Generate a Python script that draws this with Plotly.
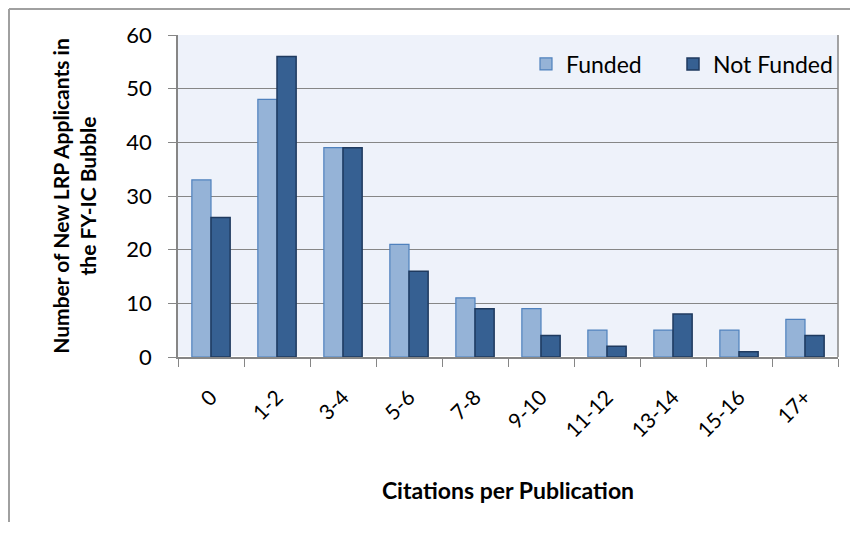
import plotly.graph_objects as go

categories = ["0", "1-2", "3-4", "5-6", "7-8", "9-10", "11-12", "13-14", "15-16", "17+"]
funded = [33, 48, 39, 21, 11, 9, 5, 5, 5, 7]
not_funded = [26, 56, 39, 16, 9, 4, 2, 8, 1, 4]

FONT = "Lato"
# page is offset by the 8px default body margin
W, H = 850, 525
L, R, T, B = 170, 20, 27, 176

fig = go.Figure()
fig.add_trace(go.Bar(x=categories, y=funded, name="Funded", legendwidth=102,
                     marker=dict(color="#95B3D7", line=dict(color="#4F81BD", width=1.2))))
fig.add_trace(go.Bar(x=categories, y=not_funded, name="Not Funded",
                     marker=dict(color="#366092", line=dict(color="#1F3A5F", width=1.5))))

pw, ph = W - L - R, H - T - B
fig.update_layout(
    width=W, height=H,
    margin=dict(l=L, r=R, t=T, b=B, autoexpand=False),
    paper_bgcolor="white",
    plot_bgcolor="#EEF2FA",
    barmode="group",
    bargap=0.42, bargroupgap=0,
    font=dict(family=FONT, size=20, color="black"),
    legend=dict(orientation="h", x=1.0, xanchor="right", y=0.91, yanchor="middle",
                bgcolor="rgba(0,0,0,0)", font=dict(size=23), itemwidth=30,
                traceorder="normal"),
    xaxis=dict(
        tickangle=-45, tickson="boundaries", ticks="outside", ticklen=8,
        tickcolor="#868686", showline=True, linecolor="#868686", linewidth=1.5,
        tickfont=dict(size=21), ticklabelstandoff=18,
        title=dict(text="<b>Citations per Publication</b>", font=dict(size=23), standoff=42),
    ),
    yaxis=dict(
        range=[0, 60], dtick=10, ticks="outside", ticklen=8, tickcolor="#868686",
        showline=True, linecolor="#868686", linewidth=1.5,
        gridcolor="#868686", gridwidth=1.3,
        tickfont=dict(size=22), ticklabelstandoff=12,
        title=dict(text="<b>Number of New LRP Applicants in<br>the FY-IC Bubble</b>",
                   font=dict(size=21), standoff=24),
    ),
)

# right border of plot area
fig.add_shape(type="line", xref="paper", yref="paper", x0=1, x1=1, y0=0, y1=1,
              line=dict(color="#868686", width=1.5))
# outer chart-area frame (top and left edges visible)
fx0 = (1 - L) / pw
fy1 = (H - B - 1) / ph
fy0 = (H - B - 514) / ph
fig.add_shape(type="line", xref="paper", yref="paper", x0=fx0, x1=(W - L + 5) / pw, y0=fy1, y1=fy1,
              line=dict(color="#A0A0A0", width=2))
fig.add_shape(type="line", xref="paper", yref="paper", x0=fx0, x1=fx0, y0=fy0, y1=fy1,
              line=dict(color="#A0A0A0", width=2))

fig.write_html("out.html")
